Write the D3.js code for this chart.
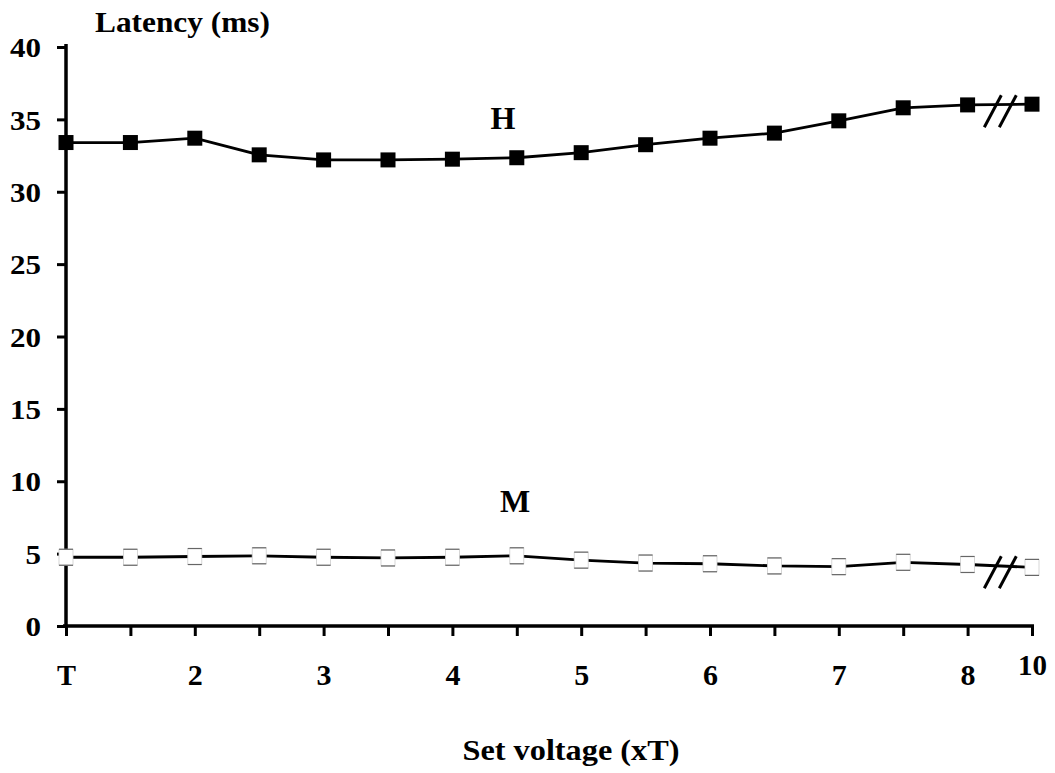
<!DOCTYPE html>
<html>
<head>
<meta charset="utf-8">
<script src="https://cdn.jsdelivr.net/npm/d3@7"></script>
<style>
  html, body { margin: 0; padding: 0; background: #fff; }
  svg { display: block; }
  svg text { font-family: "Liberation Serif", Tinos, "Times New Roman", Times, serif !important; font-weight: bold; fill: #000; }
</style>
</head>
<body>
<svg id="chart" width="1055" height="773"></svg>
<script>
// ---- data ----
const categories = ["T","1.5","2","2.5","3","3.5","4","4.5","5","5.5","6","6.5","7","7.5","8","10"];
const tickLabels = {"T":"T","2":"2","3":"3","4":"4","5":"5","6":"6","7":"7","8":"8","10":"10"};
const hValues = [33.4, 33.4, 33.7, 32.55, 32.2, 32.2, 32.25, 32.35, 32.7, 33.25, 33.7, 34.05, 34.9, 35.8, 36.0, 36.05];
const mValues = [4.75, 4.75, 4.8, 4.85, 4.75, 4.7, 4.75, 4.85, 4.55, 4.35, 4.3, 4.15, 4.1, 4.4, 4.25, 4.05];
const yTicks = [0, 5, 10, 15, 20, 25, 30, 35, 40];

const FONT = '"Liberation Serif", Tinos, "Times New Roman", Times, serif';
const svg = d3.select("#chart");
const x = d3.scalePoint().domain(categories).range([66, 1032]);
const y = d3.scaleLinear().domain([0, 40]).range([626, 47]);

// y axis
const yAxis = svg.append("g").attr("transform", "translate(66,0)")
  .call(d3.axisLeft(y).tickValues(yTicks).tickSize(9).tickPadding(16).tickSizeOuter(0));
yAxis.attr("font-family", FONT);
yAxis.select(".domain").attr("stroke", "#000").attr("stroke-width", 3.5)
  .attr("d", `M0,${y(40)-3}V${y(0)+2}`);
yAxis.selectAll(".tick line").attr("stroke", "#000").attr("stroke-width", 3);
yAxis.selectAll(".tick text").attr("font-size", 27).attr("font-family", FONT)
  .attr("font-weight", "bold").attr("fill", "#000").attr("dy", "0.36em")
  .attr("textLength", d => String(d).length * 15.5).attr("lengthAdjust", "spacingAndGlyphs");

// x axis
const xAxis = svg.append("g").attr("transform", `translate(0,${y(0)})`)
  .call(d3.axisBottom(x).tickSize(10).tickPadding(28).tickSizeOuter(0)
    .tickFormat(d => tickLabels[d] || ""));
xAxis.attr("font-family", FONT);
xAxis.select(".domain").attr("stroke", "#000").attr("stroke-width", 3.5)
  .attr("d", `M${x("T")-3},0H${x("10")+2}`);
xAxis.selectAll(".tick line").attr("stroke", "#000").attr("stroke-width", 3);
xAxis.selectAll(".tick text").attr("font-size", 30).attr("font-family", FONT)
  .attr("font-weight", "bold").attr("fill", "#000")
  .attr("textLength", d => (tickLabels[d] || "").length * 15 || null).attr("lengthAdjust", "spacingAndGlyphs");
xAxis.selectAll(".tick").filter(d => d === "T").select("text").attr("textLength", 19);
xAxis.selectAll(".tick").filter(d => d === "10").select("text").attr("dy", "0.36em").attr("textLength", 29);

// lines
const line = d3.line().x((d, i) => x(categories[i])).y(d => y(d));
svg.append("path").datum(hValues).attr("d", line)
  .attr("fill", "none").attr("stroke", "#000").attr("stroke-width", 2.8);
svg.append("path").datum(mValues).attr("d", line)
  .attr("fill", "none").attr("stroke", "#000").attr("stroke-width", 2.8);

// break marks
function breakMarks(val) {
  const cx1 = (x("8") + x("10")) / 2 - 7, cx2 = cx1 + 15, cy = y(val) + 7;
  [cx1, cx2].forEach(cx => {
    svg.append("line").attr("x1", cx - 8.5).attr("y1", cy + 16).attr("x2", cx + 8.5).attr("y2", cy - 16)
      .attr("stroke", "#000").attr("stroke-width", 3);
  });
}
breakMarks(36.05);
breakMarks(4.2);

// H markers
svg.append("g").selectAll("rect").data(hValues).join("rect")
  .attr("x", (d, i) => x(categories[i]) - 7.5).attr("y", d => y(d) - 7.5)
  .attr("width", 15).attr("height", 15).attr("fill", "#000");

// M markers
const mg = svg.append("g").selectAll("g").data(mValues).join("g")
  .attr("transform", (d, i) => `translate(${x(categories[i])},${y(d)})`);
mg.append("rect").attr("x", -7).attr("y", -8).attr("width", 14).attr("height", 16)
  .attr("fill", "#fff").attr("stroke", "#ccc").attr("stroke-width", 0.8);
mg.append("line").attr("x1", -7).attr("x2", 7).attr("y1", -8).attr("y2", -8).attr("stroke", "#666").attr("stroke-width", 1.2);
mg.append("line").attr("x1", -7).attr("x2", 7).attr("y1", 8).attr("y2", 8).attr("stroke", "#666").attr("stroke-width", 1.2);

// texts
const t = (xx, yy, size, str, anchor, len) => {
  const el = svg.append("text").attr("x", xx).attr("y", yy)
    .attr("font-size", size).attr("font-family", FONT).attr("font-weight", "bold")
    .attr("text-anchor", anchor || "start").text(str);
  if (len) el.attr("textLength", len).attr("lengthAdjust", "spacingAndGlyphs");
  return el;
};
t(95, 32, 29, "Latency (ms)", "start", 175);
t(503, 129, 32, "H", "middle");
t(515, 512, 32, "M", "middle");
t(571, 760, 30, "Set voltage (xT)", "middle", 217);
</script>
</body>
</html>
